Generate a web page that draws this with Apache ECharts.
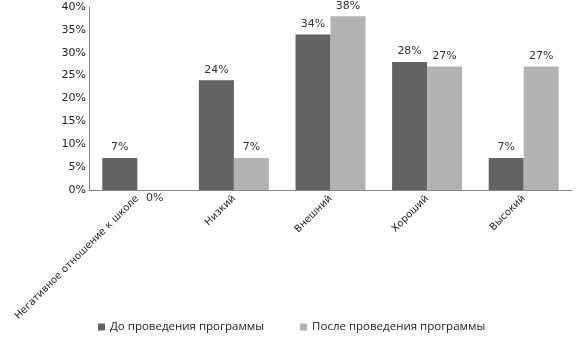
<!DOCTYPE html>
<html><head><meta charset="utf-8">
<script src="https://cdn.jsdelivr.net/npm/echarts@6/dist/echarts.min.js"></script>
<style>html,body{margin:0;padding:0;background:#fff}#c{width:583px;height:339px}</style>
</head><body><div id="c"></div>
<script>
const categories = ['Негативное отношение к школе', 'Низкий', 'Внешний', 'Хороший', 'Высокий'];
const seriesNames = ['До проведения программы', 'После проведения программы'];
const before = [7, 24, 34, 28, 7];
const after = [0, 7, 38, 27, 27];
const yTicks = [0, 5, 10, 15, 20, 25, 30, 35, 40];

const chart = echarts.init(document.getElementById('c'));
function mk(name, vals, color) {
  return {
    name: name, type: 'bar', barWidth: 35, barGap: '0%',
    itemStyle: {color: color},
    label: {show: true, position: 'top', distance: 5, formatter: '{c}%', color: '#333', fontFamily: 'DejaVu Sans', fontSize: 11},
    data: vals.map(v => v === 0 ? {value: v, label: {position: 'bottom', distance: 3}} : v)
  };
}
chart.setOption({
  animation: false,
  grid: {left: 89, right: 11, top: 7, bottom: 149},
  legend: {
    bottom: 1, left: 93, itemWidth: 7, itemHeight: 7, itemGap: 36,
    icon: 'rect',
    textStyle: {fontFamily: 'Open Sans', fontSize: 11.5, color: '#222'},
    data: seriesNames
  },
  xAxis: {
    type: 'category', data: categories,
    axisLine: {lineStyle: {color: '#888'}},
    axisTick: {show: false},
    axisLabel: {rotate: 45, interval: 0, margin: 7, fontFamily: 'DejaVu Sans', fontSize: 10, color: '#222'}
  },
  yAxis: {
    type: 'value', min: yTicks[0], max: yTicks[yTicks.length - 1], interval: 5,
    axisLine: {show: true, lineStyle: {color: '#888'}},
    axisTick: {show: false},
    splitLine: {show: false},
    axisLabel: {formatter: '{value}%', margin: 3, fontFamily: 'DejaVu Sans', fontSize: 11, color: '#222'}
  },
  series: [mk(seriesNames[0], before, '#636363'), mk(seriesNames[1], after, '#b2b2b2')]
});
</script></body></html>
